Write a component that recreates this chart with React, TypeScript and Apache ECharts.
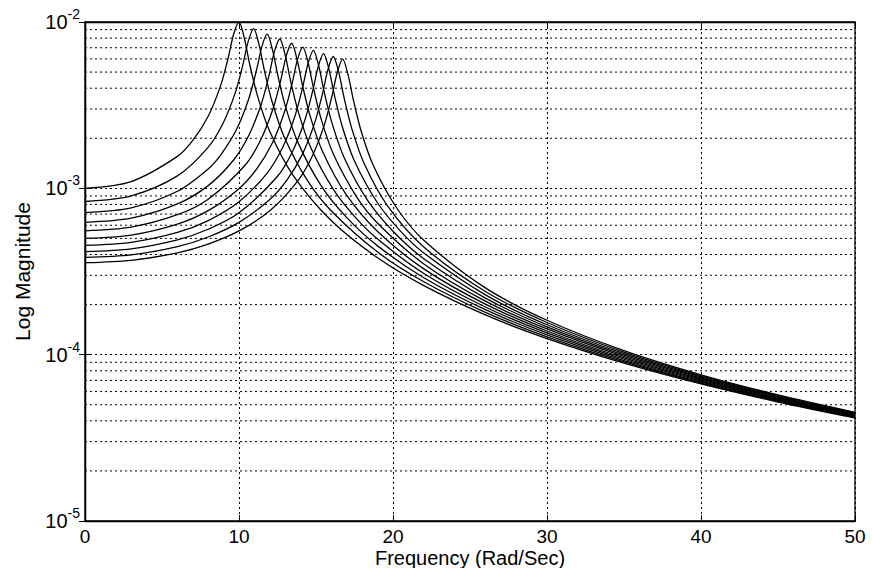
import React, { useEffect, useRef } from 'react';
import * as echarts from 'echarts';

// Frequency responses: [frequency (rad/s), magnitude]
const resp1 = [[0,1.000e-3],[3,1.098e-3],[6,1.556e-3],[7,1.943e-3],[8,2.712e-3],[8.8,4.129e-3],[9.3,6.097e-3],[9.65,8.439e-3],[10,1.000e-2],[10.35,7.959e-3],[10.7,5.552e-3],[11.2,3.597e-3],[12,2.193e-3],[13.5,1.200e-3],[16,6.377e-4],[19,3.821e-4],[22,2.600e-4],[26,1.734e-4],[30,1.249e-4],[35,8.885e-5],[40,6.664e-5],[45,5.193e-5],[50,4.166e-5]];
const resp2 = [[0,8.333e-4],[3,9.006e-4],[6,1.1875e-3],[7.95,1.7436e-3],[8.95,2.4456e-3],[9.75,3.735e-3],[10.25,5.520e-3],[10.6,7.653e-3],[10.95,9.132e-3],[11.3,7.316e-3],[11.65,5.110e-3],[12.15,3.314e-3],[12.95,2.023e-3],[14.45,1.1115e-3],[16,7.303e-4],[19,4.137e-4],[22,2.742e-4],[26,1.7966e-4],[30,1.2811e-4],[35,9.045e-5],[40,6.754e-5],[45,5.248e-5],[50,4.201e-5]];
const resp3 = [[0,7.143e-4],[3,7.632e-4],[6,9.600e-4],[8,1.3086e-3],[8.83,1.596e-3],[9.83,2.2487e-3],[10.63,3.446e-3],[11.13,5.104e-3],[11.48,7.085e-3],[11.83,8.453e-3],[12.18,6.771e-3],[12.53,4.735e-3],[13.03,3.076e-3],[13.83,1.883e-3],[15.33,1.0391e-3],[17,6.668e-4],[19,4.508e-4],[22,2.901e-4],[26,1.8635e-4],[30,1.3148e-4],[35,9.212e-5],[40,6.847e-5],[45,5.304e-5],[50,4.236e-5]];
const resp4 = [[0,6.250e-4],[3,6.621e-4],[6,8.055e-4],[8,1.0381e-3],[9.65,1.480e-3],[10.65,2.093e-3],[11.45,3.217e-3],[11.95,4.775e-3],[12.3,6.635e-3],[12.65,7.905e-3],[13,6.325e-3],[13.35,4.427e-3],[13.85,2.881e-3],[14.65,1.768e-3],[16.15,9.793e-4],[17.5,6.789e-4],[19,4.953e-4],[22,3.079e-4],[26,1.9355e-4],[30,1.3502e-4],[35,9.385e-5],[40,6.942e-5],[45,5.360e-5],[50,4.273e-5]];
const resp5 = [[0,5.556e-4],[3,5.847e-4],[6,6.939e-4],[8,8.600e-4],[10.42,1.3854e-3],[11.42,1.9654e-3],[12.22,3.029e-3],[12.72,4.503e-3],[13.07,6.262e-3],[13.42,7.452e-3],[13.77,5.955e-3],[14.12,4.171e-3],[14.62,2.719e-3],[15.42,1.672e-3],[16.92,9.292e-4],[19,5.495e-4],[22,3.281e-4],[26,2.0134e-4],[30,1.3877e-4],[35,9.564e-5],[40,7.040e-5],[45,5.418e-5],[50,4.309e-5]];
const resp6 = [[0,5.000e-4],[3,5.235e-4],[6,6.093e-4],[8,7.340e-4],[10,9.950e-4],[11.14,1.3036e-3],[12.14,1.8518e-3],[12.94,2.855e-3],[13.44,4.242e-3],[13.79,5.904e-3],[14.14,7.072e-3],[14.49,5.687e-3],[14.84,3.986e-3],[15.34,2.597e-3],[16.14,1.597e-3],[17.64,8.884e-4],[19,6.168e-4],[22,3.511e-4],[26,2.0977e-4],[30,1.4273e-4],[35,9.750e-5],[40,7.140e-5],[45,5.478e-5],[50,4.347e-5]];
const resp7 = [[0,4.545e-4],[3,4.739e-4],[6,5.432e-4],[8,6.402e-4],[10,8.304e-4],[11.83,1.2358e-3],[12.83,1.7587e-3],[13.63,2.715e-3],[14.13,4.037e-3],[14.48,5.622e-3],[14.83,6.743e-3],[15.18,5.429e-3],[15.53,3.807e-3],[16.03,2.482e-3],[16.83,1.528e-3],[18.33,8.516e-4],[20,5.522e-4],[22,3.775e-4],[26,2.1894e-4],[30,1.4692e-4],[35,9.944e-5],[40,7.243e-5],[45,5.538e-5],[50,4.385e-5]];
const resp8 = [[0,4.167e-4],[3,4.329e-4],[6,4.900e-4],[8,5.676e-4],[10,7.125e-4],[12.49,1.1775e-3],[13.49,1.6787e-3],[14.29,2.5945e-3],[14.79,3.862e-3],[15.14,5.380e-3],[15.49,6.456e-3],[15.84,5.200e-3],[16.19,3.648e-3],[16.69,2.380e-3],[17.49,1.4667e-3],[18.99,8.189e-4],[20.5,5.512e-4],[22,4.082e-4],[26,2.2895e-4],[30,1.5136e-4],[35,1.0146e-4],[40,7.350e-5],[45,5.600e-5],[50,4.424e-5]];
const resp9 = [[0,3.846e-4],[3,3.984e-4],[6,4.463e-4],[8,5.098e-4],[10,6.238e-4],[12,8.575e-4],[13.12,1.1256e-3],[14.12,1.6064e-3],[14.92,2.4838e-3],[15.42,3.697e-3],[15.77,5.153e-3],[16.12,6.203e-3],[16.47,5.012e-3],[16.82,3.518e-3],[17.32,2.295e-3],[18.12,1.4145e-3],[19.62,7.907e-4],[22,4.443e-4],[26,2.3992e-4],[30,1.5608e-4],[35,1.0356e-4],[40,7.459e-5],[45,5.664e-5],[50,4.463e-5]];
const resp10 = [[0,3.571e-4],[3,3.690e-4],[6,4.097e-4],[8,4.626e-4],[10,5.547e-4],[12,7.324e-4],[13.73,1.0810e-3],[14.73,1.5449e-3],[15.53,2.392e-3],[16.03,3.563e-3],[16.38,4.968e-3],[16.73,5.977e-3],[17.08,4.827e-3],[17.43,3.389e-3],[17.93,2.213e-3],[18.73,1.3652e-3],[20.23,7.644e-4],[22,4.874e-4],[26,2.5198e-4],[30,1.6110e-4],[35,1.0575e-4],[40,7.572e-5],[45,5.729e-5],[50,4.503e-5]];

const curves = [resp1, resp2, resp3, resp4, resp5, resp6, resp7, resp8, resp9, resp10];

// Minor log grid lines (2..9 x each decade)
const yMinorGrid = [
  2e-5, 3e-5, 4e-5, 5e-5, 6e-5, 7e-5, 8e-5, 9e-5,
  2e-4, 3e-4, 4e-4, 5e-4, 6e-4, 7e-4, 8e-4, 9e-4,
  2e-3, 3e-3, 4e-3, 5e-3, 6e-3, 7e-3, 8e-3, 9e-3,
];
const xRange = [0, 50];

const xTitle = 'Frequency (Rad/Sec)';
const yTitle = 'Log Magnitude';

const FONT = "'Liberation Sans', Arial, Helvetica, sans-serif";

export default function App() {
  const ref = useRef<HTMLDivElement>(null);

  useEffect(() => {
    if (!ref.current) return;
    const chart = echarts.init(ref.current, null, { renderer: 'svg' });
    const gridLine = { color: '#000', type: [2, 3] as number[], width: 1 };
    const axisLine = { show: true, lineStyle: { color: '#000', width: 1.3 } };

    const minorSeries = yMinorGrid.map((v) => ({
      type: 'line',
      data: [[xRange[0], v], [xRange[1], v]],
      xAxisIndex: 0,
      yAxisIndex: 0,
      symbol: 'none',
      showSymbol: false,
      silent: true,
      z: 1,
      lineStyle: gridLine,
    }));

    const curveSeries = curves.map((d) => ({
      type: 'line',
      data: d,
      xAxisIndex: 0,
      yAxisIndex: 0,
      symbol: 'none',
      showSymbol: false,
      smooth: 0.3,
      silent: true,
      z: 3,
      lineStyle: { color: '#000', width: 1.3 },
    }));

    chart.setOption({
      animation: false,
      backgroundColor: '#fff',
      grid: {
        left: 85,
        right: 17,
        top: 22,
        bottom: 47,
        show: true,
        borderColor: '#000',
        borderWidth: 1.3,
        backgroundColor: '#fff',
        containLabel: false,
        outerBoundsMode: 'none',
      },
      xAxis: [
        {
          type: 'value',
          min: 0,
          max: 50,
          interval: 10,
          position: 'bottom',
          name: xTitle,
          nameLocation: 'middle',
          nameGap: 27,
          nameMoveOverlap: false,
          nameTextStyle: { color: '#000', fontSize: 20, lineHeight: 20, fontFamily: FONT, verticalAlign: 'top' },
          axisLine,
          axisTick: { show: true, inside: true, length: 6, lineStyle: { color: '#000' } },
          axisLabel: { color: '#000', fontSize: 19, lineHeight: 17, fontFamily: FONT, margin: 7 },
          splitLine: { show: true, lineStyle: gridLine },
        },
        {
          type: 'value',
          min: 0,
          max: 50,
          interval: 10,
          position: 'top',
          axisLine,
          axisTick: { show: true, inside: true, length: 6, lineStyle: { color: '#000' } },
          axisLabel: { show: false },
          splitLine: { show: false },
        },
      ],
      yAxis: [
        {
          type: 'log',
          logBase: 10,
          min: 1e-5,
          max: 1e-2,
          position: 'left',
          name: yTitle,
          nameLocation: 'middle',
          nameGap: 52,
          nameRotate: 90,
          nameMoveOverlap: false,
          nameTextStyle: { color: '#000', fontSize: 21, fontFamily: FONT },
          axisLine,
          axisTick: { show: true, inside: true, length: 6, lineStyle: { color: '#000' } },
          axisLabel: {
            margin: 5,
            formatter: (v: number) => `{b|10}{s|${Math.round(Math.log10(v))}}`,
            rich: {
              b: { fontSize: 20, lineHeight: 18, fontFamily: FONT, color: '#000' },
              s: { fontSize: 14, lineHeight: 12, fontFamily: FONT, color: '#000', padding: [0, 0, 16, 0] },
            },
          },
          splitLine: { show: true, lineStyle: gridLine },
        },
        {
          type: 'log',
          logBase: 10,
          min: 1e-5,
          max: 1e-2,
          position: 'right',
          axisLine,
          axisTick: { show: true, inside: true, length: 6, lineStyle: { color: '#000' } },
          axisLabel: { show: false },
          splitLine: { show: false },
        },
      ],
      series: [...minorSeries, ...curveSeries],
    });

    return () => chart.dispose();
  }, []);

  return (
    <div
      ref={ref}
      style={{ position: 'fixed', left: 0, top: 0, width: 872, height: 568, background: '#fff' }}
    />
  );
}
